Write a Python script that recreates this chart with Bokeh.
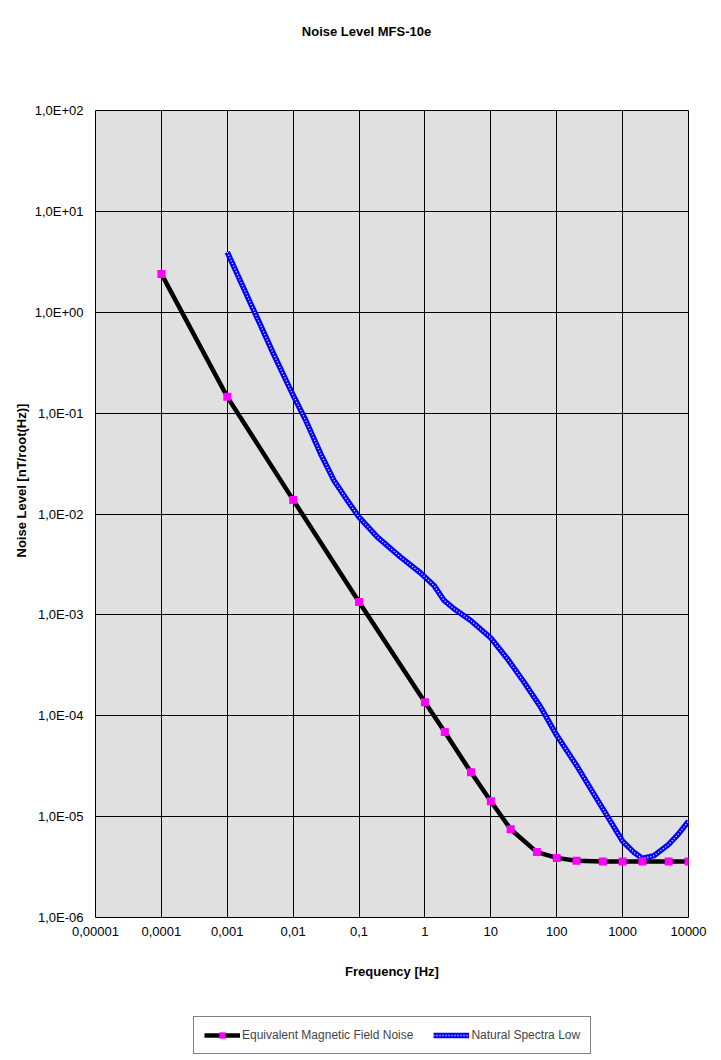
from bokeh.plotting import figure
from bokeh.layouts import column
from bokeh.models import (Range1d, FixedTicker, CustomJSTickFormatter, Title,
                          Label, Legend, LegendItem)
from bokeh.embed import file_html
from bokeh.resources import INLINE

# ---------------- data ----------------
freq_emf = [0.0001, 0.001, 0.01, 0.1, 1, 2, 5, 10, 20, 50, 100, 200, 500,
            1000, 2000, 5000, 10000]
noise_emf = [2.4, 0.145, 0.0138, 0.00134, 1.36e-4, 6.9e-5, 2.75e-5, 1.42e-5,
             7.5e-6, 4.45e-6, 3.9e-6, 3.65e-6, 3.6e-6, 3.6e-6, 3.6e-6, 3.6e-6,
             3.6e-6]

freq_nat = [0.001, 0.0026, 0.005, 0.01, 0.0155, 0.0261, 0.0416, 0.0665, 0.1,
            0.19, 0.427, 0.86, 1.37, 1.95, 2.76, 4.95, 10, 17.8, 31.8, 57,
            100, 204, 363, 500, 1000, 1500, 2000, 3000, 5000, 7000, 10000]
noise_nat = [3.94, 1.0, 0.39, 0.15, 0.085, 0.0396, 0.0215, 0.0136, 0.0093,
             0.0059, 0.00374, 0.0026, 0.00196, 0.00139, 0.00115, 8.8e-4,
             5.9e-4, 3.68e-4, 2.16e-4, 1.22e-4, 6.4e-5, 3.15e-5, 1.69e-5,
             1.2e-5, 5.7e-6, 4.4e-6, 3.85e-6, 4.1e-6, 5.3e-6, 6.7e-6, 9.0e-6]

x_ticks = [1e-5, 1e-4, 1e-3, 1e-2, 1e-1, 1, 10, 100, 1000, 10000]
x_labels = ["0,00001", "0,0001", "0,001", "0,01", "0,1", "1", "10", "100",
            "1000", "10000"]
y_ticks = [1e-6, 1e-5, 1e-4, 1e-3, 1e-2, 1e-1, 1, 10, 100]
y_labels = ["1,0E-06", "1,0E-05", "1,0E-04", "1,0E-03", "1,0E-02",
            "1,0E-01", "1,0E+00", "1,0E+01", "1,0E+02"]

title_text = "Noise Level MFS-10e"
xlabel_text = "Frequency [Hz]"
ylabel_text = "Noise Level [nT/root(Hz)]"
name_emf = "Equivalent Magnetic Field Noise"
name_nat = "Natural Spectra Low"

# ---------------- layout (page px) ----------------
W = 713
HT, HM, HL = 50, 950, 56            # title strip, main plot, legend strip
FL, FT, FR, FB = 95, 110, 688, 917  # frame edges on the page

FONT = "Liberation Sans"


def strip(height):
    # frames in a column are aligned with the main plot's frame (FL..FR)
    f = figure(width=W, height=height, x_range=Range1d(FL, FR),
               y_range=Range1d(height, 0), output_backend="svg",
               toolbar_location=None, min_border=0,
               min_border_left=FL, min_border_right=W - FR,
               x_axis_location=None, y_axis_location=None)
    f.grid.visible = False
    f.outline_line_color = None
    f.background_fill_color = "white"
    f.border_fill_color = "white"
    return f


# ---- title strip ----
top = strip(HT)
top.add_layout(Label(x=366, y=31, text=title_text, text_font=FONT,
                     text_font_size="13px", text_font_style="bold",
                     text_color="black", text_align="center",
                     text_baseline="middle"))

# ---- main plot ----
p = figure(width=W, height=HM, x_axis_type="log", y_axis_type="log",
           x_range=Range1d(1e-5, 1e4), y_range=Range1d(1e-6, 1e2),
           output_backend="svg", toolbar_location=None,
           min_border_left=FL, min_border_right=W - FR,
           min_border_top=FT - HT, min_border_bottom=HT + HM - FB)

p.background_fill_color = "#e0e0e0"
p.border_fill_color = "white"
p.outline_line_color = "black"
p.outline_line_width = 1


def fmt(tv, tl):
    return CustomJSTickFormatter(args=dict(tvals=tv, tlabs=tl), code="""
        const lt = Math.log10(tick);
        for (let i = 0; i < tvals.length; i++) {
            if (Math.abs(Math.log10(tvals[i]) - lt) < 1e-6) return tlabs[i];
        }
        return "";
    """)


for ax, tv, tl in ((p.xaxis[0], x_ticks, x_labels),
                   (p.yaxis[0], y_ticks, y_labels)):
    ax.ticker = FixedTicker(ticks=tv, minor_ticks=[])
    ax.formatter = fmt(tv, tl)
    ax.major_tick_line_color = None
    ax.minor_tick_line_color = None
    ax.major_tick_out = 0
    ax.major_tick_in = 0
    ax.minor_tick_out = 0
    ax.minor_tick_in = 0
    ax.axis_line_color = None
    ax.major_label_text_font = FONT
    ax.major_label_text_font_size = "13px"
    ax.major_label_text_color = "black"

p.xaxis.major_label_standoff = 9
p.yaxis.major_label_standoff = 12

xa = p.xaxis[0]
xa.axis_label = xlabel_text
xa.axis_label_text_font = FONT
xa.axis_label_text_font_size = "13px"
xa.axis_label_text_font_style = "bold"
xa.axis_label_text_color = "black"
xa.axis_label_standoff = 25

p.xgrid.ticker = FixedTicker(ticks=x_ticks, minor_ticks=[])
p.ygrid.ticker = FixedTicker(ticks=y_ticks, minor_ticks=[])
for g in (p.xgrid[0], p.ygrid[0]):
    g.grid_line_color = "black"
    g.grid_line_alpha = 1.0
    g.grid_line_width = 1

ytitle = Title(text=ylabel_text, text_font=FONT, text_font_size="13px",
               text_font_style="bold", text_color="black", align="left")
for k, v in (("offset", FB - 557), ("standoff", 5)):
    if k in ytitle.properties():
        setattr(ytitle, k, v)
p.add_layout(ytitle, "left")

# ---------------- series ----------------
p.line(freq_nat, noise_nat, line_color="#0000ff", line_width=5.5,
       line_join="round")
p.line(freq_nat, noise_nat, line_color="white", line_width=1.4,
       line_dash="1 2", line_join="round")
p.line(freq_emf, noise_emf, line_color="black", line_width=4.5,
       line_join="round")
p.scatter(freq_emf, noise_emf, marker="square", size=8,
          fill_color="#ff00ff", line_color=None)

# ---- legend strip ----
lg = strip(HL)
off = [0]
l_emf = lg.line(off, off, line_color="black", line_width=4.5)
l_emf_m = lg.scatter(off, off, marker="square", size=8, fill_color="#ff00ff",
                     line_color=None)
l_nat = lg.line(off, off, line_color="#0000ff", line_width=5.5)
l_nat_w = lg.line(off, off, line_color="white", line_width=1.4,
                  line_dash="1 2")

legend = Legend(items=[LegendItem(label=name_emf, renderers=[l_emf, l_emf_m]),
                       LegendItem(label=name_nat, renderers=[l_nat, l_nat_w])],
                orientation="horizontal", location=(193 - FL, 2),
                glyph_width=36, glyph_height=16, label_standoff=2,
                spacing=20, padding=10, margin=0,
                label_text_font=FONT, label_text_font_size="12px",
                border_line_color="black", border_line_width=1,
                background_fill_color="white", background_fill_alpha=1.0)
lg.add_layout(legend, "center")

page = column(top, p, lg, spacing=0)
open("out.html", "w").write(file_html(page, INLINE))
